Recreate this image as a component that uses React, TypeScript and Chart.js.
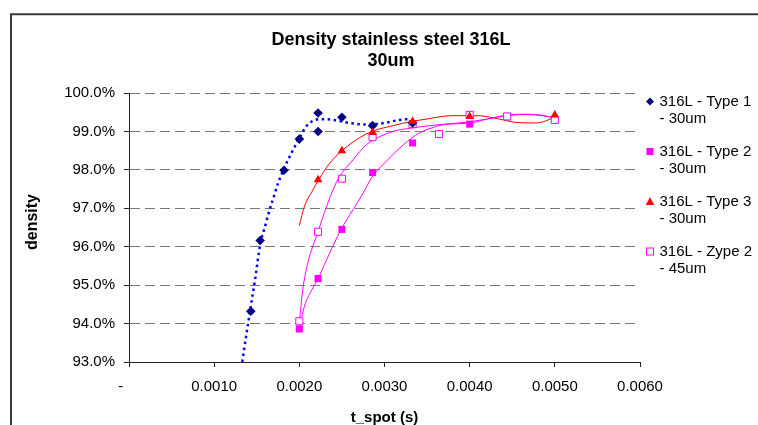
import React, { useEffect, useRef } from 'react';
import { Chart, registerables } from 'chart.js';

Chart.register(...registerables);

const FONT = '"Liberation Sans", Arial, Helvetica, sans-serif';

// ---- Text ----
const TITLE_LINES = ['Density stainless steel 316L', '30um'];
const X_TITLE = 't_spot (s)';
const Y_TITLE = 'density';

// ---- Ticks ----
const X_TICKS = [0, 0.001, 0.002, 0.003, 0.004, 0.005, 0.006];
const X_TICK_LABELS = ['-    ', '0.0010', '0.0020', '0.0030', '0.0040', '0.0050', '0.0060'];
const Y_TICKS = [93, 94, 95, 96, 97, 98, 99, 100];
const Y_TICK_LABELS = ['93.0%', '94.0%', '95.0%', '96.0%', '97.0%', '98.0%', '99.0%', '100.0%'];

// ---- Series: measured points ----
const type1X = [0.00143, 0.00154, 0.00182, 0.002, 0.00222, 0.00222, 0.0025, 0.00286, 0.00333];
const type1Y = [94.32, 96.16, 97.99, 98.8, 99.48, 99.0, 99.37, 99.15, 99.22];

const type2X = [0.002, 0.00222, 0.0025, 0.00286, 0.00333, 0.004];
const type2Y = [93.86, 95.17, 96.45, 97.93, 98.7, 99.19];

const type3X = [0.00222, 0.0025, 0.00286, 0.00333, 0.004, 0.005];
const type3Y = [97.74, 98.5, 98.97, 99.26, 99.39, 99.43];

const zype2X = [0.002, 0.00222, 0.0025, 0.00286, 0.00333, 0.00364, 0.004, 0.00444, 0.005];
const zype2Y = [94.06, 96.39, 97.77, 98.85, 99.19, 98.93, 99.43, 99.39, 99.3];

// ---- Trend lines ----
const trend1X = [0.00133, 0.00138, 0.00143, 0.00148, 0.00154, 0.0016, 0.00165, 0.0017, 0.00175, 0.00181, 0.00191, 0.002, 0.00207, 0.00214, 0.00224, 0.0024, 0.00259, 0.00279, 0.003, 0.00315, 0.00331];
const trend1Y = [93.0, 93.74, 94.45, 95.14, 96.05, 96.55, 96.95, 97.3, 97.65, 97.98, 98.45, 98.82, 99.1, 99.25, 99.32, 99.3, 99.22, 99.18, 99.22, 99.29, 99.33];

const trend2X = [0.002, 0.00206, 0.00214, 0.00222, 0.00232, 0.00249, 0.00263, 0.00275, 0.00285, 0.00302, 0.00322, 0.00341, 0.00361, 0.00373, 0.00398, 0.0042, 0.00443, 0.00467, 0.00485, 0.005];
const trend2Y = [93.88, 94.45, 94.85, 95.17, 95.66, 96.45, 96.96, 97.4, 97.8, 98.22, 98.65, 98.96, 99.13, 99.19, 99.21, 99.32, 99.41, 99.44, 99.41, 99.35];

const trend3X = [0.002, 0.00206, 0.00216, 0.00222, 0.00236, 0.0025, 0.00271, 0.00285, 0.0031, 0.00332, 0.00349, 0.00379, 0.0041, 0.00433, 0.00457, 0.00478, 0.0049, 0.005];
const trend3Y = [96.55, 97.05, 97.48, 97.72, 98.18, 98.5, 98.84, 99.0, 99.15, 99.26, 99.32, 99.41, 99.41, 99.33, 99.23, 99.22, 99.28, 99.38];

const trendZX = [0.002, 0.00204, 0.0021, 0.00222, 0.00232, 0.00245, 0.00263, 0.00279, 0.00295, 0.0031, 0.00332, 0.00361, 0.00388, 0.0042, 0.00443, 0.00467, 0.00485, 0.005];
const trendZY = [94.01, 94.88, 95.58, 96.39, 97.05, 97.74, 98.26, 98.66, 98.87, 99.0, 99.09, 99.17, 99.22, 99.32, 99.42, 99.45, 99.42, 99.35];

// ---- Legend ----
const LEGEND_LINES = [
  ['316L - Type 1', '- 30um'],
  ['316L - Type 2', '- 30um'],
  ['316L - Type 3', '- 30um'],
  ['316L - Zype 2', '- 45um'],
];

const NAVY = '#000080';
const BLUE = '#0000FF';
const MAGENTA = '#FF00FF';
const RED = '#FF0000';

const pts = (xs: number[], ys: number[]) => xs.map((x, i) => ({ x, y: ys[i] }));

const decorPlugin = {
  id: 'decor',
  beforeDraw(chart: any) {
    const ctx = chart.ctx;
    ctx.save();
    ctx.fillStyle = '#ffffff';
    ctx.fillRect(0, 0, chart.width, chart.height);
    ctx.strokeStyle = '#3a3a3a';
    ctx.lineWidth = 2;
    ctx.beginPath();
    ctx.moveTo(11, chart.height + 2);
    ctx.lineTo(11, 14.3);
    ctx.lineTo(chart.width + 2, 14.3);
    ctx.stroke();
    ctx.restore();
  },
  afterDraw(chart: any) {
    const ctx = chart.ctx;
    ctx.save();
    ctx.fillStyle = '#000';
    ctx.textAlign = 'center';
    ctx.textBaseline = 'middle';
    ctx.font = `bold 18px ${FONT}`;
    TITLE_LINES.forEach((t, i) => ctx.fillText(t, 391, 40 + i * 21.5));

    ctx.save();
    ctx.translate(33, 222);
    ctx.rotate(-Math.PI / 2);
    ctx.font = `bold 16px ${FONT}`;
    ctx.fillText(Y_TITLE, 0, 0);
    ctx.restore();

    // legend
    ctx.font = `15px ${FONT}`;
    ctx.textAlign = 'left';
    LEGEND_LINES.forEach((lines, i) => {
      const cy = 101.5 + i * 50;
      const cx = 650;
      ctx.beginPath();
      if (i === 0) {
        ctx.fillStyle = NAVY;
        ctx.moveTo(cx, cy - 4);
        ctx.lineTo(cx + 4, cy);
        ctx.lineTo(cx, cy + 4);
        ctx.lineTo(cx - 4, cy);
        ctx.closePath();
        ctx.fill();
      } else if (i === 1) {
        ctx.fillStyle = MAGENTA;
        ctx.fillRect(cx - 3.5, cy - 3.5, 7, 7);
      } else if (i === 2) {
        ctx.fillStyle = RED;
        ctx.moveTo(cx, cy - 4.5);
        ctx.lineTo(cx + 4.2, cy + 3.5);
        ctx.lineTo(cx - 4.2, cy + 3.5);
        ctx.closePath();
        ctx.fill();
      } else {
        ctx.fillStyle = '#fff';
        ctx.strokeStyle = MAGENTA;
        ctx.lineWidth = 1;
        ctx.fillRect(cx - 3.5, cy - 3.5, 7, 7);
        ctx.strokeRect(cx - 3.5, cy - 3.5, 7, 7);
      }
      ctx.fillStyle = '#000';
      lines.forEach((t, j) => ctx.fillText(t, 659.5, cy + j * 17.6));
    });
    ctx.restore();
  },
};

export default function App() {
  const canvasRef = useRef<HTMLCanvasElement | null>(null);

  useEffect(() => {
    if (!canvasRef.current) return;
    const trend = (xs: number[], ys: number[], color: string, width: number, dash: number[]) => ({
      data: pts(xs, ys),
      showLine: true,
      borderColor: color,
      borderWidth: width,
      borderDash: dash,
      pointRadius: 0,
      fill: false,
      cubicInterpolationMode: 'monotone',
      order: 10,
    });
    const chart = new Chart(canvasRef.current, {
      type: 'line',
      data: {
        datasets: [
          trend(trend1X, trend1Y, BLUE, 2.5, [2.5, 3.5]),
          trend(trend2X, trend2Y, MAGENTA, 1, []),
          trend(trend3X, trend3Y, RED, 1, []),
          trend(trendZX, trendZY, MAGENTA, 1, []),
          {
            label: '316L - Type 2 - 30um',
            data: pts(type2X, type2Y),
            showLine: false,
            pointStyle: 'rect',
            pointRadius: 5,
            backgroundColor: MAGENTA,
            borderColor: MAGENTA,
            borderWidth: 0,
            order: 5,
          },
          {
            label: '316L - Zype 2 - 45um',
            data: pts(zype2X, zype2Y),
            showLine: false,
            pointStyle: 'rect',
            pointRadius: 5,
            backgroundColor: '#ffffff',
            borderColor: MAGENTA,
            borderWidth: 1,
            order: 4,
          },
          {
            label: '316L - Type 1 - 30um',
            data: pts(type1X, type1Y),
            showLine: false,
            pointStyle: 'rectRot',
            pointRadius: 4.8,
            backgroundColor: NAVY,
            borderColor: NAVY,
            borderWidth: 0,
            order: 3,
          },
          {
            label: '316L - Type 3 - 30um',
            data: pts(type3X, type3Y),
            showLine: false,
            pointStyle: 'triangle',
            pointRadius: 5,
            backgroundColor: RED,
            borderColor: RED,
            borderWidth: 0,
            order: 2,
          },
        ] as any,
      },
      options: {
        responsive: false,
        animation: false,
        devicePixelRatio: 1,
        layout: { padding: { top: 93, right: 118, left: 0, bottom: 0 } },
        plugins: {
          legend: { display: false },
          title: { display: false },
          tooltip: { enabled: false },
        },
        scales: {
          x: {
            type: 'linear',
            min: 0,
            max: 0.006,
            afterBuildTicks: (s: any) => {
              s.ticks = X_TICKS.map((v) => ({ value: v }));
            },
            afterFit: (s: any) => {
              s.height = 63;
            },
            ticks: {
              callback: (_v: any, i: number) => X_TICK_LABELS[i],
              font: { family: FONT, size: 15 },
              color: '#000',
              padding: 11,
              maxRotation: 0,
              autoSkip: false,
            },
            grid: {
              drawOnChartArea: false,
              drawTicks: true,
              tickLength: 5,
              tickColor: '#222',
              tickWidth: 1,
            },
            border: { color: '#222', width: 1 },
            title: {
              display: true,
              text: X_TITLE,
              font: { family: FONT, size: 15, weight: 'bold', lineHeight: 1 },
              color: '#000',
              padding: { top: 0, bottom: 0 },
            },
          },
          y: {
            type: 'linear',
            min: 93,
            max: 100,
            afterBuildTicks: (s: any) => {
              s.ticks = Y_TICKS.map((v) => ({ value: v }));
            },
            afterFit: (s: any) => {
              s.width = 129;
            },
            ticks: {
              callback: (_v: any, i: number) => Y_TICK_LABELS[i],
              font: { family: FONT, size: 15 },
              color: '#000',
              padding: 9,
              autoSkip: false,
            },
            grid: {
              drawOnChartArea: true,
              drawTicks: true,
              tickLength: 5,
              color: (c: any) => (c.tick && c.tick.value === 93 ? 'rgba(0,0,0,0)' : '#777'),
              lineWidth: 1,
              tickColor: '#222',
              tickWidth: 1,
            },
            border: { color: '#222', width: 1, dash: [10, 5] },
          },
        },
      } as any,
      plugins: [decorPlugin],
    });
    return () => chart.destroy();
  }, []);

  return (
    <div style={{ position: 'absolute', left: 0, top: 0, width: 758, height: 425 }}>
      <canvas ref={canvasRef} width={758} height={425} style={{ display: 'block', width: 758, height: 425 }} />
    </div>
  );
}
